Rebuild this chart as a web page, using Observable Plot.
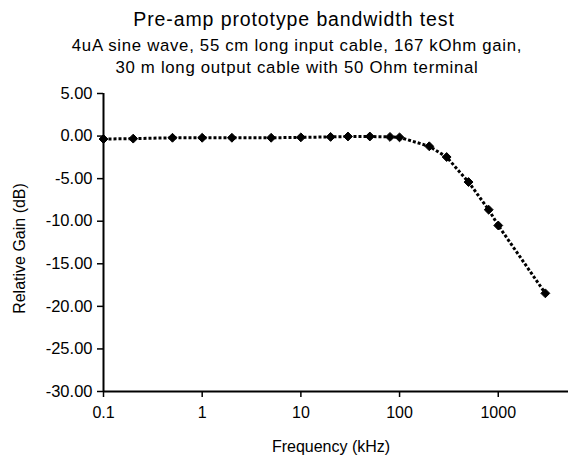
<!DOCTYPE html>
<html><head><meta charset="utf-8">
<script src="https://cdn.jsdelivr.net/npm/d3@7"></script>
<script src="https://cdn.jsdelivr.net/npm/@observablehq/plot@0.6"></script>
<style>
html,body{margin:0;padding:0;background:#fff;overflow:hidden;}
body{width:568px;font-family:"Liberation Sans",Arial,sans-serif;color:#000;}
#title{padding-top:4px;height:31px;line-height:30px;font-size:19.5px;letter-spacing:0.9px;text-align:center;white-space:nowrap;width:588px;}
#sub{font-size:16.8px;letter-spacing:0.7px;line-height:22px;text-align:center;white-space:nowrap;width:594px;}
</style></head>
<body>
<div id="title">Pre-amp prototype bandwidth test</div>
<div id="sub">4uA sine wave, 55 cm long input cable, 167 kOhm gain,<br>30 m long output cable with 50 Ohm terminal</div>
<div id="chart"></div>
<script>
const frequency = [0.1, 0.2, 0.5, 1, 2, 5, 10, 20, 30, 50, 80, 100, 200, 300, 500, 800, 1000, 3000];
const gain = [-0.35, -0.3, -0.2, -0.2, -0.2, -0.2, -0.15, -0.1, -0.05, -0.05, -0.1, -0.15, -1.2, -2.46, -5.4, -8.65, -10.5, -18.47];
const xTicks = [0.1, 1, 10, 100, 1000];
const yTicks = [5, 0, -5, -10, -15, -20, -25, -30];
const xDomain = [0.1, 5150];
const yDomain = [-30, 5];
const xTitle = "Frequency (kHz)";
const yTitle = "Relative Gain (dB)";

const data = frequency.map((f, i) => ({f, g: gain[i]}));

const chart = Plot.plot({
  width: 568,
  height: 377,
  marginTop: 14,
  marginBottom: 65,
  marginLeft: 103,
  marginRight: 0,
  style: {fontFamily: "Liberation Sans, Arial, sans-serif", fontSize: "16px", color: "#000", background: "#fff", overflow: "visible"},
  x: {type: "log", domain: xDomain},
  y: {domain: yDomain},
  marks: [
    Plot.axisX({ticks: xTicks, tickFormat: d => String(d), tickSize: 6, tickPadding: 9, strokeWidth: 1.5, label: null, fontSize: 16}),
    Plot.axisY({ticks: yTicks, tickFormat: d => d.toFixed(2), tickSize: 6, tickPadding: 5, strokeWidth: 1.5, label: null, fontSize: 16.5}),
    Plot.ruleX([xDomain[0]], {y1: yDomain[0], y2: yDomain[1], stroke: "#000", strokeWidth: 2}),
    Plot.ruleY([yDomain[0]], {stroke: "#000", strokeWidth: 2}),
    Plot.line(data, {x: "f", y: "g", stroke: "#000", strokeWidth: 3, strokeDasharray: "3,2", strokeLinecap: "butt", strokeLinejoin: "miter"}),
    Plot.dot(data, {x: "f", y: "g", symbol: "diamond2", r: 4, fill: "#000", stroke: "#000", strokeWidth: 1}),
    Plot.text([xTitle], {frameAnchor: "bottom", text: d => d, dx: -5, dy: 60, fontSize: 16, textAnchor: "middle"}),
    Plot.text([yTitle], {frameAnchor: "left", text: d => d, rotate: -90, dx: -84, dy: 6, fontSize: 16, textAnchor: "middle"})
  ]
});
document.getElementById("chart").appendChild(chart);
</script>
</body></html>
